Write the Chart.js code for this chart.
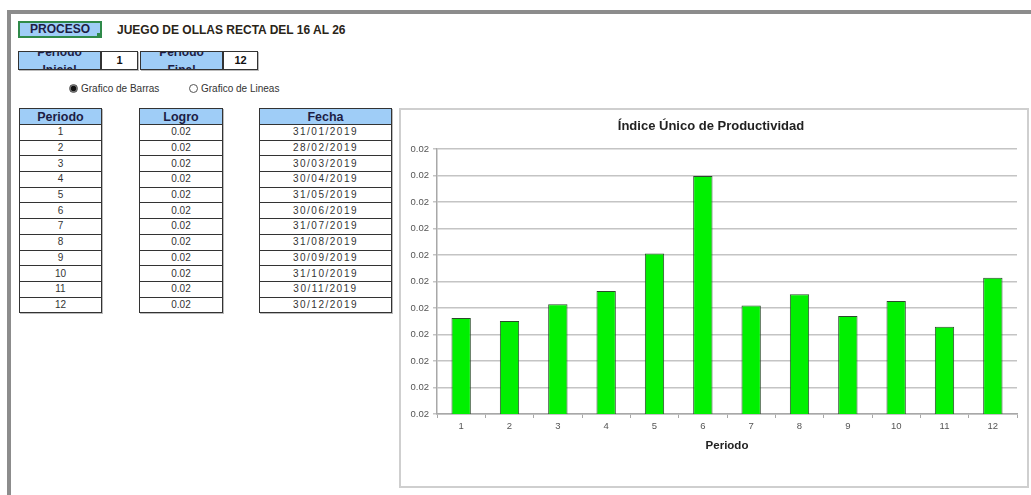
<!DOCTYPE html>
<html lang="es">
<head>
<meta charset="UTF-8">
<title>Índice Único de Productividad</title>
<script src="https://cdn.jsdelivr.net/npm/chart.js"></script>
<style>
    html, body { margin: 0; padding: 0; background: #fff; }
    body {
        width: 1031px; height: 495px; position: relative; overflow: hidden;
        font-family: "Liberation Sans", Arial, sans-serif;
    }
    .frame {
        position: absolute; left: 7px; top: 10px; right: -10px; bottom: -10px;
        border-top: 4px solid #8c8c8c; border-left: 4px solid #8c8c8c;
    }
    .cell {
        position: absolute; box-sizing: border-box; text-align: center;
        font-size: 10px; color: #333; overflow: hidden;
    }
    .blue { background: #9fcdf7; }
    .proceso {
        left: 18px; top: 21px; width: 84px; height: 17px;
        border: 2px solid #2f8a4a; font-weight: bold; color: #1d1d45;
        font-size: 12px; line-height: 13px;
    }
    .proceso::after {
        content: ''; position: absolute; right: -1px; bottom: -1px;
        width: 4px; height: 4px; background: #2f8a4a;
    }
    .titulo {
        position: absolute; left: 117px; top: 23px; font-size: 12px;
        font-weight: bold; color: #2a2418;
    }
    .boxed { border: 1px solid #333; box-shadow: 1px 1px 0 #bbb; }
    .wrap2 { line-height: 18px; font-weight: bold; color: #1d1d45; font-size: 12px; }
    .wrap2 span { display: block; position: relative; top: -9px; }
    .radio {
        position: absolute; top: 83px; font-size: 10px; color: #333;
    }
    .radio i {
        display: inline-block; width: 9px; height: 9px; border-radius: 50%;
        border: 1px solid #555; vertical-align: -1px; margin-right: 3px;
        box-sizing: border-box;
    }
    .radio i.on { background: radial-gradient(#111 45%, #888 65%); }
    table.grid {
        position: absolute; top: 108px; border-collapse: collapse;
        font-size: 10px; color: #333; box-shadow: 1px 1px 0 #bbb;
    }
    table.grid th, table.grid td {
        border: 1px solid #333; padding: 0; text-align: center;
        height: 14.7px; line-height: 12px;
    }
    table.grid th { background: #9fcdf7; color: #1d1d45; height: 15px; font-size: 12.5px; }
    #tblFecha td { letter-spacing: 1.5px; }
    .chart-box {
        position: absolute; left: 399px; top: 108px; width: 630px; height: 380px;
        border: 2px solid #cfcfcf; box-sizing: border-box; background: #fff;
    }
    .chart-box canvas { position: absolute; left: 0; top: 0; }
</style>
</head>
<body>
<div class="frame"></div>

<div class="cell blue proceso">PROCESO</div>
<div class="titulo">JUEGO DE OLLAS RECTA DEL 16 AL 26</div>

<div class="cell blue boxed wrap2" style="left:18px;top:51px;width:83px;height:19px;"><span>Periodo<br>Inicial</span></div>
<div class="cell boxed" style="left:101px;top:51px;width:37px;height:19px;line-height:17px;font-weight:bold;color:#111;font-size:11px;" id="perIni"></div>
<div class="cell blue boxed wrap2" style="left:140px;top:51px;width:83px;height:19px;"><span>Periodo<br>Final</span></div>
<div class="cell boxed" style="left:223px;top:51px;width:35px;height:19px;line-height:17px;font-weight:bold;color:#111;font-size:11px;" id="perFin"></div>

<div class="radio" style="left:69px;"><i class="on"></i>Grafico de Barras</div>
<div class="radio" style="left:189px;"><i></i>Grafico de Lineas</div>

<table class="grid" id="tblPeriodo" style="left:19px;width:83px;"></table>
<table class="grid" id="tblLogro" style="left:139px;width:84px;"></table>
<table class="grid" id="tblFecha" style="left:259px;width:133px;"></table>

<div class="chart-box">
    <canvas id="chartIUP" width="626" height="376" style="width:626px;height:376px;"></canvas>
</div>

<script>
    // datos por periodo
    const periodos = [1, 2, 3, 4, 5, 6, 7, 8, 9, 10, 11, 12];
    const logro = [0.020162, 0.020151, 0.020214, 0.020264, 0.020406, 0.020698,
                   0.020209, 0.020252, 0.020170, 0.020226, 0.020129, 0.020314];
    const fechas = ['31/01/2019', '28/02/2019', '30/03/2019', '30/04/2019', '31/05/2019', '30/06/2019',
                    '31/07/2019', '31/08/2019', '30/09/2019', '31/10/2019', '30/11/2019', '30/12/2019'];
    // eje Y
    const yMin = 0.0198;
    const yMax = 0.0208;
    const yStep = 0.0001;

    document.getElementById('perIni').textContent = periodos[0];
    document.getElementById('perFin').textContent = periodos[periodos.length - 1];

    function llenarTabla(id, titulo, valores) {
        let html = '<tr><th>' + titulo + '</th></tr>';
        valores.forEach(v => { html += '<tr><td>' + v + '</td></tr>'; });
        document.getElementById(id).innerHTML = html;
    }
    llenarTabla('tblPeriodo', 'Periodo', periodos);
    llenarTabla('tblLogro', 'Logro', logro.map(v => v.toFixed(2)));
    llenarTabla('tblFecha', 'Fecha', fechas);

    new Chart(document.getElementById('chartIUP'), {
        type: 'bar',
        data: {
            labels: periodos,
            datasets: [{
                data: logro,
                backgroundColor: '#00f000',
                borderColor: '#2b4a2b',
                borderWidth: 1,
                barPercentage: 0.4,
                categoryPercentage: 1
            }]
        },
        options: {
            responsive: false,
            animation: false,
            layout: { padding: { left: 4, right: 10, top: 0, bottom: 0 } },
            plugins: {
                legend: { display: false },
                tooltip: { enabled: false },
                title: {
                    display: true,
                    text: 'Índice Único de Productividad',
                    color: '#222',
                    font: { family: 'Liberation Sans', size: 13, weight: 'bold' },
                    padding: { top: 9, bottom: 14.4 }
                }
            },
            scales: {
                x: {
                    afterFit: s => { s.height = 72; },
                    border: { color: '#a8a8a8', width: 1.5 },
                    grid: { drawOnChartArea: false, drawTicks: true, tickLength: 4, color: '#a8a8a8', offset: true },
                    ticks: { color: '#555', padding: 3, font: { family: 'Liberation Sans', size: 9.5 } },
                    title: {
                        display: true, text: 'Periodo', color: '#222',
                        font: { family: 'Liberation Sans', size: 11.5, weight: 'bold' },
                        padding: { top: 0, bottom: 33 }
                    }
                },
                y: {
                    min: yMin,
                    max: yMax,
                    afterFit: s => { s.width = 32; },
                    border: { color: '#a8a8a8', width: 1.5 },
                    grid: { color: '#c4c4c4', lineWidth: 1.5, tickLength: 4 },
                    ticks: {
                        stepSize: yStep,
                        color: '#555',
                        padding: 4,
                        font: { family: 'Liberation Sans', size: 9.5 },
                        callback: v => v.toFixed(2)
                    }
                }
            }
        }
    });
</script>
</body>
</html>
